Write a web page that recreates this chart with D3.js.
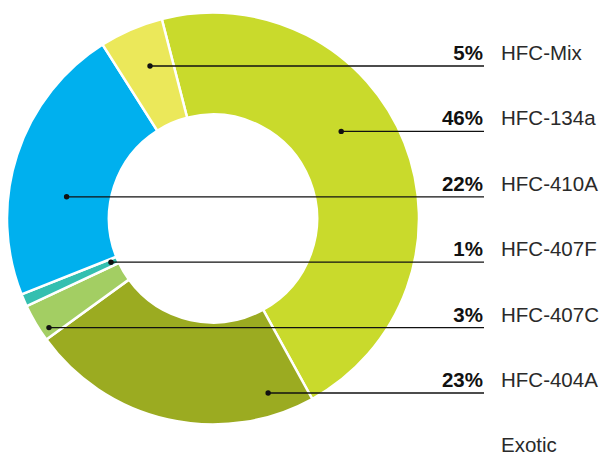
<!DOCTYPE html>
<html>
<head>
<meta charset="utf-8">
<script src="https://cdn.jsdelivr.net/npm/d3@7"></script>
<style>
  html, body { margin: 0; padding: 0; background: #fff; }
  svg { display: block; }
</style>
</head>
<body>
<svg id="chart" width="603" height="455"></svg>
<script>
// ---- data (clockwise order, starting just left of 12 o'clock) ----
const categories = ["HFC-134a", "HFC-404A", "HFC-407C", "HFC-407F", "HFC-410A", "HFC-Mix"];
const shares     = [46, 23, 3, 1, 22, 5];
const colors     = ["#c9da2c", "#9bab21", "#a3ce63", "#34bfb0", "#00b0ee", "#ebe85a"];
// legend (top to bottom)
const legendNames = ["HFC-Mix", "HFC-134a", "HFC-410A", "HFC-407F", "HFC-407C", "HFC-404A", "Exotic"];
const legendPct   = ["5%", "46%", "22%", "1%", "3%", "23%", ""];

// ---- layout ----
const cx = 213, cy = 218.5, rOuter = 206, rInner = 104;
const startDeg = -14.4;
const lineTop = 66, lineStep = 65.4, lineEnd = 484;
// radius (and side of centre) at which each leader line's dot sits inside its slice
const anchorR    = {"HFC-Mix": 165, "HFC-134a": 155, "HFC-410A": 148, "HFC-407F": 111, "HFC-407C": 197, "HFC-404A": 183};
const anchorSide = {"HFC-Mix": -1, "HFC-134a": 1, "HFC-410A": -1, "HFC-407F": -1, "HFC-407C": -1, "HFC-404A": 1};

const svg = d3.select("#chart");
const g = svg.append("g").attr("transform", `translate(${cx},${cy})`);

const start = startDeg * Math.PI / 180;
const pie = d3.pie().sort(null).value(d => d.v).startAngle(start).endAngle(start + 2 * Math.PI);
const arcs = pie(categories.map((c, i) => ({c, v: shares[i], col: colors[i]})));
const arc = d3.arc().innerRadius(rInner).outerRadius(rOuter);

g.selectAll("path").data(arcs).join("path")
  .attr("d", arc)
  .attr("fill", d => d.data.col)
  .attr("stroke", "#fff")
  .attr("stroke-width", 2.5)
  .attr("stroke-linejoin", "miter");

const yScale = d3.scaleLinear().domain([0, 1]).range([lineTop, lineTop + lineStep]);

legendNames.forEach((name, i) => {
  const y = yScale(i);
  const a = arcs.find(d => d.data.c === name);
  if (a) {
    const side = anchorSide[name];
    const r = anchorR[name];
    const dy = y - cy;
    const x = cx + side * Math.sqrt(Math.max(0, r * r - dy * dy));
    svg.append("line")
      .attr("x1", x).attr("y1", y).attr("x2", lineEnd).attr("y2", y)
      .attr("stroke", "#111").attr("stroke-width", 1.3);
    svg.append("circle").attr("cx", x).attr("cy", y).attr("r", 2.7).attr("fill", "#111");
  }
  if (legendPct[i]) {
    svg.append("text")
      .attr("x", 483).attr("y", y - 6)
      .attr("text-anchor", "end")
      .attr("font-family", "Liberation Sans, Arial, sans-serif")
      .attr("font-weight", "bold")
      .attr("font-size", 20.5)
      .attr("fill", "#111")
      .text(legendPct[i]);
  }
  svg.append("text")
    .attr("x", 501).attr("y", y - 6)
    .attr("font-family", "Liberation Sans, Arial, sans-serif")
    .attr("font-size", 20.5)
    .attr("fill", "#2a2a2a")
    .text(name);
});
</script>
</body>
</html>
